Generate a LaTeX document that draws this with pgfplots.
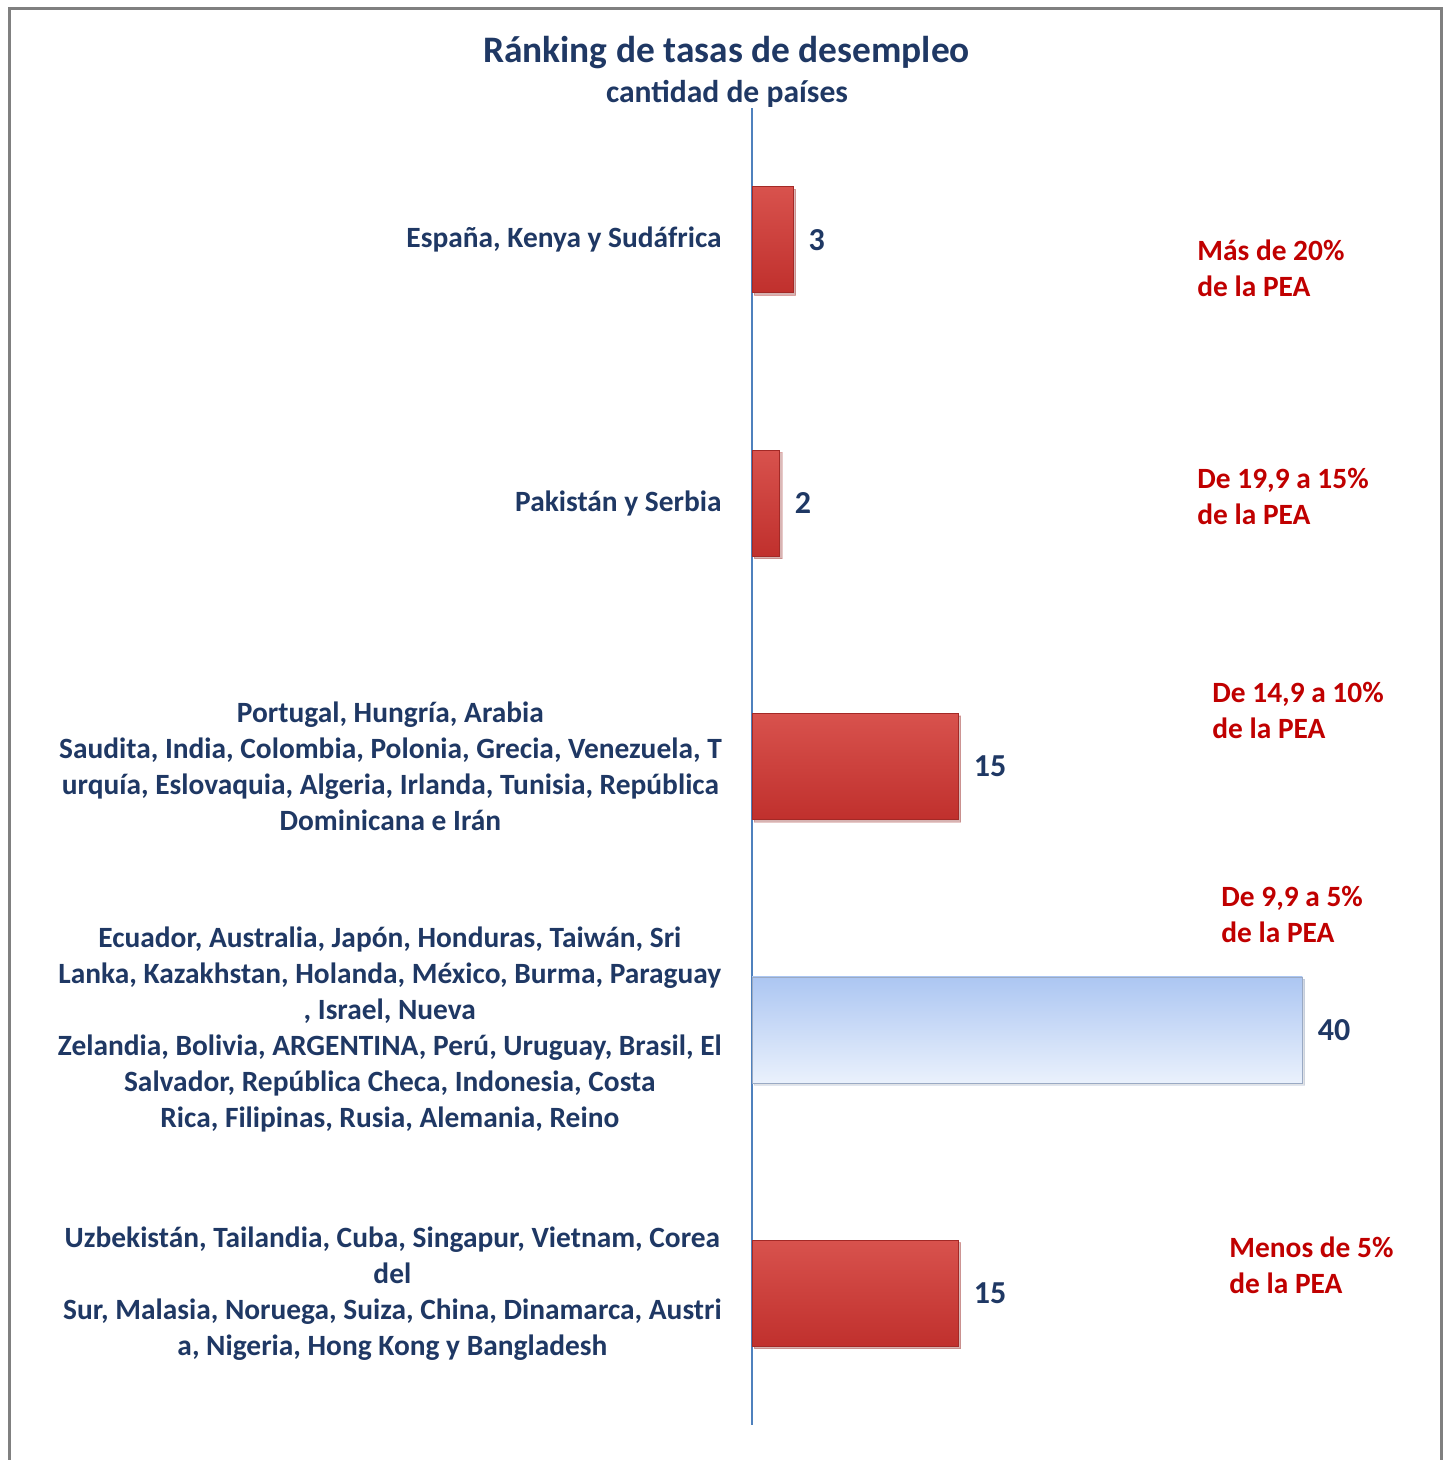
\documentclass[border=0pt]{standalone}
\usepackage{fontspec}
\setmainfont{Carlito}
\usepackage{pgfplots}
\pgfplotsset{compat=1.18}
\usetikzlibrary{shadows}
\definecolor{navy}{RGB}{31,56,100}
\definecolor{ared}{RGB}{192,0,0}
\definecolor{axblue}{RGB}{79,129,189}
\definecolor{rtop}{RGB}{216,82,77}
\definecolor{rmid}{RGB}{206,62,57}
\definecolor{rbot}{RGB}{192,48,45}
\definecolor{btop}{RGB}{172,198,242}
\definecolor{bbot}{RGB}{234,241,252}
\pgfplotsset{
  redbar/.style={draw=rbot!85!black, top color=rtop, middle color=rmid, bottom color=rbot,
    drop shadow={shadow xshift=1.2pt, shadow yshift=-1.2pt, opacity=0.25}},
  bluebar/.style={draw=btop!60!gray, top color=btop, bottom color=bbot,
    drop shadow={shadow xshift=1.2pt, shadow yshift=-1.2pt, opacity=0.25}},
}
\begin{document}
\begin{tikzpicture}
\useasboundingbox (0pt,0pt) rectangle (723.5pt,-730pt);
\fill[white] (0pt,0pt) rectangle (723.5pt,-730pt);
\draw[gray, line width=1.5pt] (4.5pt,-731pt) -- (4.5pt,-4.5pt) -- (720.8pt,-4.5pt) -- (720.8pt,-731pt);
\node[font=\bfseries\fontsize{18.7}{22}\selectfont, text=navy] at (363.25pt,-26.5pt) {Ránking de tasas de desempleo};
\node[font=\bfseries\fontsize{15.8}{18}\selectfont, text=navy] at (363.5pt,-47pt) {cantidad de países};
\begin{axis}[
  at={(376pt,-712.5pt)}, anchor=south west, scale only axis,
  width=344pt, height=658.5pt,
  xmin=0, xmax=50, ymin=-0.5, ymax=4.5, y dir=reverse,
  axis x line=none, axis y line*=left,
  y axis line style={axblue, line width=1pt},
  ytick={0,1,2,3,4}, major tick length=0pt,
  yticklabels={
    {España, Kenya y Sudáfrica},
    {Pakistán y Serbia},
    {Portugal, Hungría, Arabia\\Saudita, India, Colombia, Polonia, Grecia, Venezuela, T\\urquía, Eslovaquia, Algeria, Irlanda, Tunisia, República\\Dominicana e Irán},
    {Ecuador, Australia, Japón, Honduras, Taiwán, Sri\\Lanka, Kazakhstan, Holanda, México, Burma, Paraguay\\, Israel, Nueva\\Zelandia, Bolivia, ARGENTINA, Perú, Uruguay, Brasil, El\\Salvador, República Checa, Indonesia, Costa\\Rica, Filipinas, Rusia, Alemania, Reino},
    {Uzbekistán, Tailandia, Cuba, Singapur, Vietnam, Corea\\del\\Sur, Malasia, Noruega, Suiza, China, Dinamarca, Austri\\a, Nigeria, Hong Kong y Bangladesh}
  },
  yticklabel style={align=center, font=\bfseries\fontsize{14.7}{18}\selectfont, text=navy, inner sep=0pt, xshift=-15pt},
  xbar, bar width=53pt, bar shift=0pt,
  nodes near coords,
  nodes near coords style={font=\bfseries\fontsize{16}{18}\selectfont, text=navy, inner sep=0pt, xshift=7.5pt,
    /pgf/number format/assume math mode=true},
  clip=false,
]
\addplot[redbar] coordinates {(3,0)};
\addplot[redbar] coordinates {(2,1)};
\addplot[redbar] coordinates {(15,2)};
\addplot[bluebar] coordinates {(40,3)};
\addplot[redbar] coordinates {(15,4)};
\end{axis}
\begin{scope}[every node/.style={font=\bfseries\fontsize{14.7}{18}\selectfont, text=ared, align=left, anchor=west, inner sep=0pt}]
\node at (598.5pt,-134pt) {Más de 20\%\\de la PEA};
\node at (598.5pt,-248pt) {De 19,9 a 15\%\\de la PEA};
\node at (606pt,-355pt) {De 14,9 a 10\%\\de la PEA};
\node at (610.5pt,-457pt) {De 9,9 a 5\%\\de la PEA};
\node at (614.5pt,-632.5pt) {Menos de 5\%\\de la PEA};
\end{scope}
\end{tikzpicture}
\end{document}
